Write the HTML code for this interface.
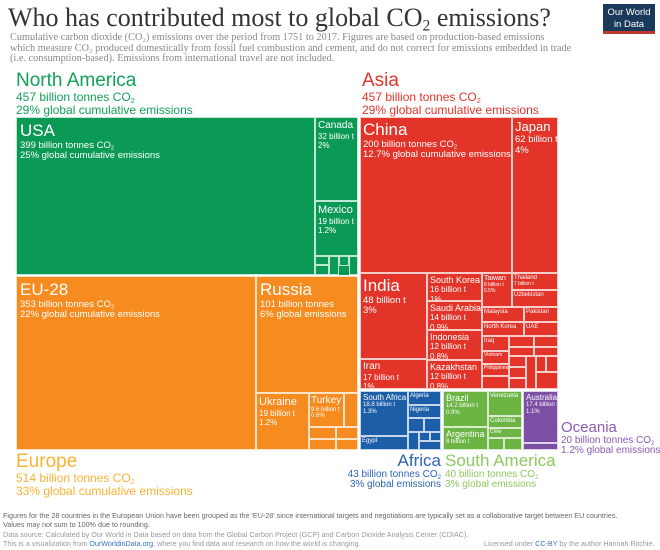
<!DOCTYPE html>
<html><head><meta charset="utf-8"><style>
body{margin:0;width:660px;height:550px;background:#fff;position:relative;overflow:hidden;font-family:"Liberation Sans",sans-serif}
div{position:absolute;box-sizing:border-box}
sub{line-height:0;vertical-align:-0.3em;font-size:60%}
.b{border:1px solid rgba(255,255,255,.75);color:#fff;overflow:hidden;line-height:1.15;white-space:nowrap;font-size:0}
.n{font-size:17px}.s{font-size:8px}.m{font-size:9.5px}.t{font-size:5px}
.lab{line-height:1.05;white-space:nowrap;font-size:0}
</style></head><body>
<div style="left:8px;top:3px;font-family:'Liberation Serif',serif;font-size:26px;color:#333;white-space:nowrap;line-height:30px">Who has contributed most to global CO<sub>2</sub> emissions?</div>
<div style="left:603px;top:4px;width:52px;height:30px;background:#1a3a5c;border-bottom:3px solid #c0392b;color:#fff;font-size:9.5px;text-align:center;line-height:12px;padding-top:3px">Our World<br>in Data</div>
<div style="left:10px;top:33px;font-family:'Liberation Serif',serif;font-size:10.3px;color:#888;line-height:10.5px;width:640px;white-space:nowrap">Cumulative carbon dioxide (CO₂) emissions over the period from 1751 to 2017. Figures are based on production-based emissions<br>which measure CO₂ produced domestically from fossil fuel combustion and cement, and do not correct for emissions embedded in trade<br>(i.e. consumption-based). Emissions from international travel are not included.</div>

<div class="lab" style="left:16px;top:71px;color:#13a05a"><span style="font-size:19px">North America</span><br><span style="font-size:12px">457 billion tonnes CO<sub>2</sub><br>29% global cumulative emissions</span></div>
<div class="lab" style="left:362px;top:71px;color:#e0352b"><span style="font-size:19px">Asia</span><br><span style="font-size:12px">457 billion tonnes CO<sub>2</sub><br>29% global cumulative emissions</span></div>

<!-- North America -->
<div style="left:16px;top:117px;width:342px;height:158px;background:#0b9a55"></div>
<div class="b" style="left:16px;top:117px;width:299px;height:158px;padding:3px"><span class="n">USA</span><br><span class="m">399 billion tonnes CO<sub>2</sub><br>25% global cumulative emissions</span></div>
<div class="b" style="left:315px;top:117px;width:43px;height:84px;padding:2px"><span style="font-size:10px">Canada</span><br><span class="s">32 billion t<br>2%</span></div>
<div class="b" style="left:315px;top:201px;width:43px;height:55px;padding:2px"><span style="font-size:11px">Mexico</span><br><span class="s">19 billion t<br>1.2%</span></div>
<div class="b" style="left:315px;top:256px;width:14px;height:9px"></div><div class="b" style="left:315px;top:265px;width:14px;height:10px"></div>
<div class="b" style="left:329px;top:256px;width:10px;height:19px"></div><div class="b" style="left:339px;top:256px;width:10px;height:10px"></div><div class="b" style="left:349px;top:256px;width:9px;height:19px"></div>

<!-- Asia -->
<div style="left:360px;top:117px;width:198px;height:272px;background:#e3342a"></div>
<div class="b" style="left:360px;top:117px;width:152px;height:156px;padding:2px"><span class="n">China</span><br><span class="m">200 billion tonnes CO<sub>2</sub><br>12.7% global cumulative emissions</span></div>
<div class="b" style="left:512px;top:117px;width:46px;height:156px;padding:2px"><span style="font-size:13px">Japan</span><br><span class="m">62 billion t<br>4%</span></div>
<div class="b" style="left:360px;top:273px;width:67px;height:86px;padding:2px"><span class="n">India</span><br><span style="font-size:9.5px">48 billion t<br>3%</span></div>
<div class="b" style="left:360px;top:359px;width:67px;height:30px;padding:1px 2px"><span style="font-size:10px">Iran</span><br><span class="s">17 billion t<br>1%</span></div>
<div class="b" style="left:427px;top:273px;width:55px;height:28px;padding:1px 2px"><span style="font-size:9px">South Korea</span><br><span class="s">16 billion t<br>1%</span></div>
<div class="b" style="left:427px;top:301px;width:55px;height:29px;padding:1px 2px"><span style="font-size:9px">Saudi Arabia</span><br><span class="s">14 billion t<br>0.9%</span></div>
<div class="b" style="left:427px;top:330px;width:55px;height:30px;padding:1px 2px"><span style="font-size:9px">Indonesia</span><br><span class="s">12 billion t<br>0.8%</span></div>
<div class="b" style="left:427px;top:360px;width:55px;height:29px;padding:1px 2px"><span style="font-size:9px">Kazakhstan</span><br><span class="s">12 billion t<br>0.8%</span></div>
<div class="b" style="left:482px;top:273px;width:30px;height:34px;padding:1px"><span style="font-size:7px">Taiwan</span><br><span class="t">8 billion t<br>0.5%</span></div>
<div class="b" style="left:512px;top:273px;width:46px;height:17px;padding:1px"><span style="font-size:6px">Thailand</span><br><span class="t">7 billion t</span></div>
<div class="b" style="left:512px;top:290px;width:46px;height:17px;padding:1px"><span style="font-size:6px">Uzbekistan</span></div>
<div class="b" style="left:482px;top:307px;width:42px;height:15px;padding:1px"><span style="font-size:6px">Malaysia</span></div>
<div class="b" style="left:524px;top:307px;width:34px;height:15px;padding:1px"><span style="font-size:6px">Pakistan</span></div>
<div class="b" style="left:482px;top:322px;width:42px;height:14px;padding:1px"><span style="font-size:6px">North Korea</span></div>
<div class="b" style="left:524px;top:322px;width:34px;height:14px;padding:1px"><span style="font-size:6px">UAE</span></div>
<div class="b" style="left:482px;top:336px;width:27px;height:15px;padding:1px"><span style="font-size:6px">Iraq</span></div>
<div class="b" style="left:482px;top:351px;width:27px;height:13px;padding:1px"><span style="font-size:5px">Vietnam</span></div>
<div class="b" style="left:482px;top:364px;width:27px;height:12px;padding:1px"><span style="font-size:5px">Philippines</span></div>
<div class="b" style="left:482px;top:376px;width:27px;height:13px"></div>
<div class="b" style="left:509px;top:336px;width:25px;height:11px"></div><div class="b" style="left:534px;top:336px;width:24px;height:11px"></div>
<div class="b" style="left:509px;top:347px;width:25px;height:9px"></div><div class="b" style="left:534px;top:347px;width:24px;height:9px"></div>
<div class="b" style="left:509px;top:356px;width:17px;height:11px"></div><div class="b" style="left:509px;top:367px;width:17px;height:11px"></div><div class="b" style="left:509px;top:378px;width:17px;height:11px"></div>
<div class="b" style="left:526px;top:356px;width:10px;height:33px"></div><div class="b" style="left:536px;top:356px;width:10px;height:16px"></div><div class="b" style="left:546px;top:356px;width:12px;height:16px"></div><div class="b" style="left:536px;top:372px;width:22px;height:17px"></div>

<!-- Europe -->
<div style="left:16px;top:276px;width:342px;height:174px;background:#f68b1f"></div>
<div class="b" style="left:16px;top:276px;width:240px;height:174px;padding:3px"><span class="n">EU-28</span><br><span class="m">353 billion tonnes CO<sub>2</sub><br>22% global cumulative emissions</span></div>
<div class="b" style="left:256px;top:276px;width:102px;height:117px;padding:3px"><span class="n">Russia</span><br><span class="m">101 billion tonnes<br>6% global emissions</span></div>
<div class="b" style="left:256px;top:393px;width:53px;height:57px;padding:2px"><span style="font-size:11px">Ukraine</span><br><span class="s">19 billion t<br>1.2%</span></div>
<div class="b" style="left:309px;top:393px;width:35px;height:34px;padding:1px"><span style="font-size:10px">Turkey</span><br><span class="t" style="font-size:6px">9.6 billion t<br>0.6%</span></div>
<div class="b" style="left:344px;top:393px;width:14px;height:34px"></div>
<div class="b" style="left:309px;top:427px;width:27px;height:12px"></div><div class="b" style="left:336px;top:427px;width:22px;height:12px"></div>
<div class="b" style="left:309px;top:439px;width:27px;height:11px"></div><div class="b" style="left:336px;top:439px;width:22px;height:11px"></div>
<div class="lab" style="left:16px;top:452px;color:#f9b233"><span style="font-size:19px">Europe</span><br><span style="font-size:12px">514 billion tonnes CO<sub>2</sub><br>33% global cumulative emissions</span></div>

<!-- Africa -->
<div style="left:360px;top:391px;width:81px;height:59px;background:#1c5ea8"></div>
<div class="b" style="left:360px;top:391px;width:48px;height:45px;padding:1px 2px"><span style="font-size:8px">South Africa</span><br><span class="t" style="font-size:6px">18.8 billion t<br>1.3%</span></div>
<div class="b" style="left:360px;top:436px;width:48px;height:14px;padding:1px"><span style="font-size:6px">Egypt</span></div>
<div class="b" style="left:408px;top:391px;width:33px;height:14px;padding:1px"><span style="font-size:6px">Algeria</span></div>
<div class="b" style="left:408px;top:405px;width:33px;height:13px;padding:1px"><span style="font-size:6px">Nigeria</span></div>
<div class="b" style="left:408px;top:418px;width:16px;height:14px"></div><div class="b" style="left:424px;top:418px;width:17px;height:14px"></div>
<div class="b" style="left:408px;top:432px;width:11px;height:18px"></div><div class="b" style="left:419px;top:432px;width:11px;height:9px"></div><div class="b" style="left:430px;top:432px;width:11px;height:9px"></div><div class="b" style="left:419px;top:441px;width:22px;height:9px"></div>
<div class="lab" style="left:300px;top:452px;width:141px;text-align:right;color:#2c64b8"><span style="font-size:17px">Africa</span><br><span style="font-size:10px">43 billion tonnes CO<sub>2</sub><br>3% global emissions</span></div>

<!-- South America -->
<div style="left:443px;top:391px;width:79px;height:59px;background:#6cb544"></div>
<div class="b" style="left:443px;top:391px;width:45px;height:36px;padding:1px 2px"><span style="font-size:9px">Brazil</span><br><span class="t" style="font-size:6px">14.2 billion t<br>0.9%</span></div>
<div class="b" style="left:443px;top:427px;width:45px;height:23px;padding:1px 2px"><span style="font-size:9px">Argentina</span><br><span class="t" style="font-size:6px">8 billion t</span></div>
<div class="b" style="left:488px;top:391px;width:34px;height:25px;padding:1px"><span style="font-size:6px">Venezuela</span></div>
<div class="b" style="left:488px;top:416px;width:34px;height:12px;padding:1px"><span style="font-size:6px">Colombia</span></div>
<div class="b" style="left:488px;top:428px;width:34px;height:10px;padding:1px"><span style="font-size:5px">Chile</span></div>
<div class="b" style="left:488px;top:438px;width:16px;height:12px"></div><div class="b" style="left:504px;top:438px;width:18px;height:12px"></div>
<div class="lab" style="left:445px;top:452px;color:#8ec95e"><span style="font-size:17px">South America</span><br><span style="font-size:10px">40 billion tonnes CO<sub>2</sub><br>3% global emissions</span></div>

<!-- Oceania -->
<div style="left:523px;top:391px;width:35px;height:59px;background:#7b4fa3"></div>
<div class="b" style="left:523px;top:391px;width:35px;height:52px;padding:1px 2px"><span style="font-size:8px">Australia</span><br><span class="t" style="font-size:6px">17.4 billion t<br>1.1%</span></div>
<div class="b" style="left:523px;top:443px;width:35px;height:7px"></div>
<div class="lab" style="left:561px;top:420px;color:#8a5bb4"><span style="font-size:15px">Oceania</span><br><span style="font-size:10px">20 billion tonnes CO<sub>2</sub><br>1.2% global emissions</span></div>

<div style="left:3px;top:512px;font-size:7.2px;color:#666;line-height:8.5px;white-space:nowrap">Figures for the 28 countries in the European Union have been grouped as the 'EU-28' since international targets and negotiations are typically set as a collaborative target between EU countries.<br>Values may not sum to 100% due to rounding.</div>
<div style="left:3px;top:530px;font-size:7.2px;color:#999;line-height:9px;white-space:nowrap">Data source: Calculated by Our World in Data based on data from the Global Carbon Project (GCP) and Carbon Dioxide Analysis Center (CDIAC).<br>This is a visualization from <span style="color:#3a6fc4">OurWorldinData.org</span>, where you find data and research on how the world is changing.</div>
<div style="left:484px;top:539px;font-size:7.2px;color:#999;white-space:nowrap">Licensed under <span style="color:#3a6fc4">CC-BY</span> by the author Hannah Ritchie.</div>
</body></html>
